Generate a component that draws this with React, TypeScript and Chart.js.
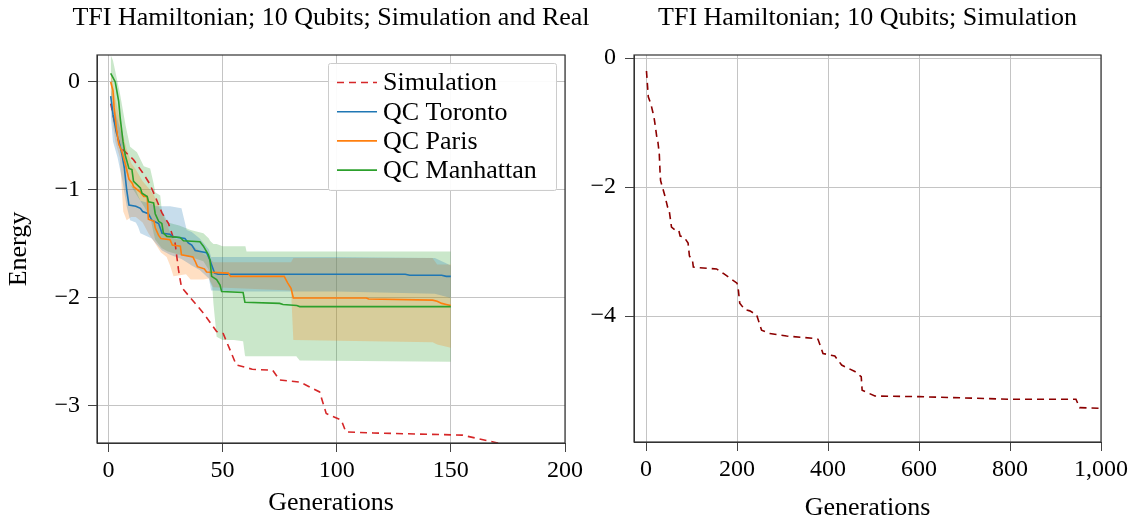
import React, { useEffect, useRef } from "react";
import { Chart, registerables } from "chart.js";

Chart.register(...registerables);

const W = 1137;
const H = 519;
const SERIF = "'Liberation Serif', 'Times New Roman', serif";
const GRID = "#c4c4c4";
const TICK = "#444444";
const FRAME = "#333333";

// ---------------- data ----------------
// Simulation (shared by both panels)
const simGen = [1, 5, 11, 15, 18, 20.5, 23.4, 26.3, 29.2, 30.7, 32, 36, 41.6, 47.4, 50.3, 56, 63, 72, 75, 84, 92.5, 95.4, 102, 104, 116, 155, 170, 180, 200, 203, 206, 217, 228, 243, 254, 272, 309, 375, 378, 389, 415, 430, 459, 473, 475, 503, 600, 800, 945, 953, 1000];
const simEnergy = [-0.2, -0.6, -0.72, -0.84, -0.94, -1.06, -1.21, -1.31, -1.49, -1.74, -1.9, -2.0, -2.14, -2.31, -2.33, -2.62, -2.66, -2.67, -2.76, -2.78, -2.87, -3.07, -3.13, -3.24, -3.25, -3.27, -3.34, -3.39, -3.49, -3.6, -3.8, -3.9, -3.92, -3.98, -4.22, -4.27, -4.31, -4.35, -4.36, -4.58, -4.62, -4.76, -4.86, -4.94, -5.15, -5.24, -5.25, -5.29, -5.29, -5.42, -5.43];

// QC Toronto
const torontoGen = [1, 2, 3.5, 5, 6, 7, 8, 9, 12, 14, 15, 17.5, 19, 22, 23.5, 27, 28, 33.5, 35, 36.5, 38, 43, 44.5, 45.5, 46.5, 48, 130, 132, 146, 148, 150];
const torontoEnergy = [-0.13, -0.3, -0.47, -0.58, -0.68, -0.8, -1.0, -1.14, -1.15, -1.17, -1.2, -1.22, -1.28, -1.31, -1.4, -1.41, -1.43, -1.45, -1.49, -1.51, -1.56, -1.58, -1.65, -1.71, -1.77, -1.78, -1.78, -1.79, -1.79, -1.8, -1.8];
const torontoBandGen = [1, 2, 4, 6, 8, 9.5, 12, 13, 14, 19, 21, 23.5, 27, 32, 34.3, 36.5, 40, 44, 45, 60, 100, 143, 150];
const torontoBandHigh = [-0.05, -0.2, -0.35, -0.5, -0.75, -0.95, -1.0, -1.05, -1.1, -1.13, -1.15, -1.15, -1.15, -1.17, -1.37, -1.39, -1.45, -1.55, -1.62, -1.62, -1.62, -1.63, -1.7];
const torontoBandLow = [-0.3, -0.55, -0.7, -0.9, -1.15, -1.28, -1.3, -1.34, -1.4, -1.45, -1.5, -1.56, -1.6, -1.64, -1.67, -1.7, -1.74, -1.82, -1.93, -1.94, -1.94, -1.96, -2.0];

// QC Paris
const parisGen = [1, 2, 2.5, 3.5, 4.5, 6, 7.5, 9, 10.5, 11, 14, 15.5, 17, 17.5, 20, 20.5, 22, 23, 27, 28, 31.5, 32, 37, 38, 39, 42, 43, 52.5, 53.5, 77, 78.5, 80, 81, 113, 114, 142, 144, 146, 148, 150];
const parisEnergy = [0.0, -0.08, -0.24, -0.43, -0.57, -0.65, -0.77, -0.9, -0.94, -0.97, -1.02, -1.06, -1.06, -1.27, -1.29, -1.35, -1.42, -1.45, -1.46, -1.51, -1.52, -1.6, -1.62, -1.66, -1.71, -1.73, -1.76, -1.77, -1.8, -1.8, -1.86, -1.91, -2.0, -2.0, -2.01, -2.02, -2.03, -2.05, -2.06, -2.07];
const parisBandGen = [1, 2, 3, 5, 6.5, 8, 10, 12, 15, 17.5, 20, 23, 25.5, 27, 28.5, 34, 36, 41.5, 44, 46, 80, 81, 142, 144, 150];
const parisBandHigh = [0.1, -0.02, -0.15, -0.35, -0.5, -0.62, -0.75, -0.81, -0.92, -0.98, -1.05, -1.2, -1.3, -1.4, -1.45, -1.47, -1.5, -1.59, -1.62, -1.67, -1.67, -1.63, -1.63, -1.69, -1.69];
const parisBandLow = [-0.2, -0.4, -0.55, -0.7, -1.2, -1.28, -1.25, -1.25, -1.3, -1.4, -1.48, -1.58, -1.62, -1.7, -1.8, -1.78, -1.83, -1.83, -1.82, -1.9, -1.93, -2.39, -2.41, -2.43, -2.46];

// QC Manhattan
const manhattanGen = [1, 2, 3, 4.5, 5.2, 6.4, 7.4, 9, 10.3, 11, 14, 14.7, 17, 17.6, 19.8, 20.5, 22, 23.4, 24.1, 25.6, 31.4, 32.9, 40.1, 41.6, 43.8, 44.5, 45.2, 47.4, 48.9, 49.6, 59, 59.8, 75, 76.5, 82.5, 83.8, 150];
const manhattanEnergy = [0.08, 0.04, 0.0, -0.18, -0.34, -0.55, -0.68, -0.8, -0.81, -0.92, -0.98, -1.03, -1.06, -1.11, -1.12, -1.22, -1.29, -1.31, -1.4, -1.43, -1.44, -1.47, -1.48, -1.52, -1.6, -1.65, -1.8, -1.83, -1.88, -1.94, -1.95, -2.04, -2.05, -2.06, -2.07, -2.08, -2.08];
const manhattanBandGen = [1, 2, 3, 5, 7.5, 9.5, 12.5, 15.5, 18.3, 19.8, 20.5, 22.7, 23.4, 26, 31, 36, 41.6, 44, 44.5, 45.5, 46, 47.4, 50, 55, 59, 59.8, 60, 60.5, 82.3, 83.8, 150];
const manhattanBandHigh = [0.25, 0.2, 0.1, -0.1, -0.4, -0.6, -0.65, -0.78, -0.8, -0.94, -1.02, -1.05, -1.19, -1.3, -1.33, -1.37, -1.4, -1.45, -1.47, -1.49, -1.5, -1.5, -1.52, -1.52, -1.52, -1.52, -1.52, -1.57, -1.57, -1.57, -1.57];
const manhattanBandLow = [-0.1, -0.2, -0.35, -0.55, -0.8, -0.95, -1.05, -1.15, -1.25, -1.4, -1.46, -1.52, -1.54, -1.57, -1.6, -1.62, -1.66, -1.74, -1.85, -1.9, -2.05, -2.36, -2.39, -2.39, -2.4, -2.53, -2.54, -2.54, -2.54, -2.58, -2.59];

// ticks / labels
const leftXTicks = [0, 50, 100, 150, 200];
const leftYTicks = [0, -1, -2, -3];
const rightXTicks = [0, 200, 400, 600, 800, 1000];
const rightYTicks = [0, -2, -4];
const leftTitle = "TFI Hamiltonian; 10 Qubits; Simulation and Real";
const rightTitle = "TFI Hamiltonian; 10 Qubits; Simulation";
const xLabel = "Generations";
const yLabel = "Energy";
const seriesLabels = ["Simulation", "QC Toronto", "QC Paris", "QC Manhattan"];

// ---------------- helpers ----------------
const pts = (xs: number[], ys: number[]) => xs.map((x, i) => ({ x, y: ys[i] }));

const fmt = (v: number) => {
  const s = Math.abs(v).toLocaleString("en-US");
  return v < 0 ? "\u2212" + s : s;
};

const framePlugin = {
  id: "frame",
  afterDatasetsDraw(chart: any) {
    const { ctx, chartArea: a } = chart;
    ctx.save();
    ctx.strokeStyle = FRAME;
    ctx.lineWidth = 1.2;
    ctx.strokeRect(a.left, a.top, a.right - a.left, a.bottom - a.top);
    ctx.restore();
  },
};

// title centred over the plot area, allowed to be wider than it
const makeTitlePlugin = (text: string) => ({
  id: "panelTitle",
  afterDraw(chart: any) {
    const { ctx, chartArea: a } = chart;
    ctx.save();
    ctx.fillStyle = "#000";
    ctx.font = `26px ${SERIF}`;
    ctx.textAlign = "center";
    ctx.textBaseline = "middle";
    ctx.fillText(text, (a.left + a.right) / 2, 18);
    ctx.restore();
  },
});

const legendPlugin = {
  id: "boxLegend",
  afterDraw(chart: any) {
    const { ctx, chartArea: a } = chart;
    const items = chart.data.datasets.filter((d: any) => !d.isBand);
    const x0 = a.right - 237;
    const y0 = a.top + 8;
    const w = 228;
    const h = 127;
    ctx.save();
    ctx.fillStyle = "rgba(255,255,255,0.92)";
    ctx.strokeStyle = "#cccccc";
    ctx.lineWidth = 1;
    ctx.beginPath();
    ctx.roundRect(x0 + 0.5, y0 + 0.5, w, h, 2);
    ctx.fill();
    ctx.stroke();
    items.forEach((d: any, i: number) => {
      const y = y0 + 19.5 + i * 29.2;
      ctx.strokeStyle = d.borderColor;
      ctx.lineWidth = 1.6;
      ctx.setLineDash(d.borderDash || []);
      ctx.beginPath();
      ctx.moveTo(x0 + 9, y);
      ctx.lineTo(x0 + 49, y);
      ctx.stroke();
      ctx.setLineDash([]);
      ctx.fillStyle = "#000";
      ctx.font = `26px ${SERIF}`;
      ctx.textAlign = "left";
      ctx.textBaseline = "middle";
      ctx.fillText(d.label, x0 + 55, y + 1);
    });
    ctx.restore();
  },
};

const lineDs = (label: string, xs: number[], ys: number[], color: string, order: number, dash?: number[]) => ({
  label,
  data: pts(xs, ys),
  borderColor: color,
  backgroundColor: color,
  borderWidth: 1.6,
  borderDash: dash || [],
  pointRadius: 0,
  fill: false,
  tension: 0,
  order,
});

const bandDs = (xs: number[], lo: number[], hi: number[], color: string) => [
  { label: "", isBand: true, data: pts(xs, lo), borderWidth: 0, borderColor: "rgba(0,0,0,0)", pointRadius: 0, fill: false, tension: 0, order: 10 },
  { label: "", isBand: true, data: pts(xs, hi), borderWidth: 0, borderColor: "rgba(0,0,0,0)", backgroundColor: color, pointRadius: 0, fill: "-1", tension: 0, order: 10 },
];

const makeX = (min: number, max: number, ticks: number[], height: number, titlePadBottom: number) => ({
  type: "linear",
  min,
  max,
  afterBuildTicks: (s: any) => {
    s.ticks = ticks.map((value) => ({ value }));
  },
  afterFit: (s: any) => {
    s.height = height;
  },
  grid: { color: GRID, tickColor: TICK, tickLength: 9, lineWidth: 1 },
  border: { color: FRAME },
  ticks: {
    color: "#000",
    font: { family: SERIF, size: 24 },
    padding: 4,
    maxRotation: 0,
    autoSkip: false,
    callback: (v: any) => fmt(Number(v)),
  },
  title: {
    display: true,
    text: xLabel,
    color: "#000",
    font: { family: SERIF, size: 26 },
    padding: { top: 0, bottom: titlePadBottom },
  },
});

const makeY = (min: number, max: number, ticks: number[], width: number, pad: number, showTitle: boolean) => ({
  type: "linear",
  min,
  max,
  afterBuildTicks: (s: any) => {
    s.ticks = ticks.map((value) => ({ value }));
  },
  afterFit: (s: any) => {
    s.width = width;
  },
  grid: { color: GRID, tickColor: TICK, tickLength: 9, lineWidth: 1 },
  border: { color: FRAME },
  ticks: {
    color: "#000",
    font: { family: SERIF, size: 24 },
    padding: pad,
    autoSkip: false,
    callback: (v: any) => fmt(Number(v)),
  },
  title: {
    display: showTitle,
    text: yLabel,
    color: "#000",
    font: { family: SERIF, size: 26 },
    padding: { top: 4, bottom: 0 },
  },
});

const buildLeft = () => ({
  type: "line",
  data: {
    datasets: [
      lineDs(seriesLabels[0], simGen, simEnergy, "#d62728", 3, [7, 5]),
      lineDs(seriesLabels[1], torontoGen, torontoEnergy, "#1f77b4", 2),
      lineDs(seriesLabels[2], parisGen, parisEnergy, "#ff7f0e", 1),
      lineDs(seriesLabels[3], manhattanGen, manhattanEnergy, "#2ca02c", 0),
      ...bandDs(torontoBandGen, torontoBandLow, torontoBandHigh, "rgba(31,119,180,0.25)"),
      ...bandDs(parisBandGen, parisBandLow, parisBandHigh, "rgba(255,127,14,0.25)"),
      ...bandDs(manhattanBandGen, manhattanBandLow, manhattanBandHigh, "rgba(44,160,44,0.25)"),
    ],
  },
  options: {
    responsive: false,
    animation: false,
    events: [],
    layout: { padding: { left: 0, right: W - 565, top: 55, bottom: 0 } },
    plugins: {
      legend: { display: false },
      tooltip: { enabled: false },
      title: { display: false },
    },
    scales: {
      x: makeX(-5, 200, leftXTicks, 76, 0),
      y: makeY(-3.343, 0.25, leftYTicks, 97, 8, true),
    },
  },
  plugins: [framePlugin, makeTitlePlugin(leftTitle), legendPlugin],
});

const buildRight = () => ({
  type: "line",
  data: {
    datasets: [lineDs(seriesLabels[0], simGen, simEnergy, "#8b0000", 0, [7, 5])],
  },
  options: {
    responsive: false,
    animation: false,
    events: [],
    layout: { padding: { left: 634 - 60, right: W - 1101, top: 55, bottom: 0 } },
    plugins: {
      legend: { display: false },
      tooltip: { enabled: false },
      title: { display: false },
    },
    scales: {
      x: makeX(-26.4, 1000, rightXTicks, 77, -5),
      y: makeY(-5.953, 0.047, rightYTicks, 60, 9, false),
    },
  },
  plugins: [framePlugin, makeTitlePlugin(rightTitle)],
});

function ChartCanvas({ build }: { build: () => any }) {
  const ref = useRef<HTMLCanvasElement>(null);
  useEffect(() => {
    const chart = new Chart(ref.current as HTMLCanvasElement, build());
    return () => chart.destroy();
  }, [build]);
  return (
    <canvas
      ref={ref}
      width={W}
      height={H}
      style={{ position: "absolute", left: 0, top: 0, width: W, height: H }}
    />
  );
}

export default function App() {
  return (
    <div
      style={{
        position: "fixed",
        left: 0,
        top: 0,
        width: W,
        height: H,
        overflow: "hidden",
        background: "#ffffff",
      }}
    >
      <ChartCanvas build={buildLeft} />
      <ChartCanvas build={buildRight} />
    </div>
  );
}
